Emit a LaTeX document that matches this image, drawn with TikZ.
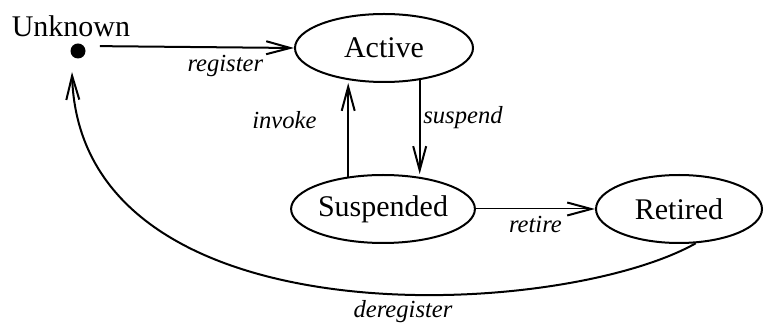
\documentclass[tikz,border=0pt]{standalone}
\usepackage{fontspec}
\setmainfont{Liberation Serif}
\usetikzlibrary{arrows.meta,shapes.geometric}

\begin{document}
\begin{tikzpicture}[x=0.5pt, y=-0.5pt,
	state/.style={draw, line width=1pt, ellipse, minimum width=89pt, minimum height=34pt, inner sep=0pt, font=\fontsize{15}{18}\selectfont},
	trans/.style={line width=1pt, -{Straight Barb[length=12pt,width=6.5pt,line width=1pt]}},
	evt/.style={font=\fontsize{12.3}{15}\selectfont\itshape}]
	\useasboundingbox (0,0) rectangle (764,325);
	%states
	\node[circle, fill, inner sep=0pt, minimum size=7.5pt] (unknown) at (78,51) {};
	\node[font=\fontsize{15}{18}\selectfont] (unknownlabel) at (71,26) {Unknown};
	\node[state] (active) at (384,48) {Active};
	\node[state] (suspended) at (383,209) {Suspended};
	\node[state, minimum width=83pt] (retired) at (679,209) {Retired};
	\coordinate (unknownin) at (72,72);
	
	\draw[trans, shorten <=7pt] ([yshift=2.5pt]unknown.east) -- (active.west) node[evt, pos=0.67, below] {register};
	\draw[trans] (suspended.137) -- (suspended.137 |- active.south) node[evt, pos=0.6, left=12pt] {invoke};
	\draw[trans] (active.-42) -- (active.-42 |- suspended.north) node[evt, pos=0.4, right, xshift=-2pt] {suspend};
	\draw[trans, line width=0.5pt] (suspended.east) -- (retired.west) node[evt, midway, below] {retire};
	\draw[trans] (retired.-64) .. controls (560,320) and (80,345) .. (unknownin) node[evt, pos=0.42, below=-1pt] {deregister};
\end{tikzpicture}
\end{document}
